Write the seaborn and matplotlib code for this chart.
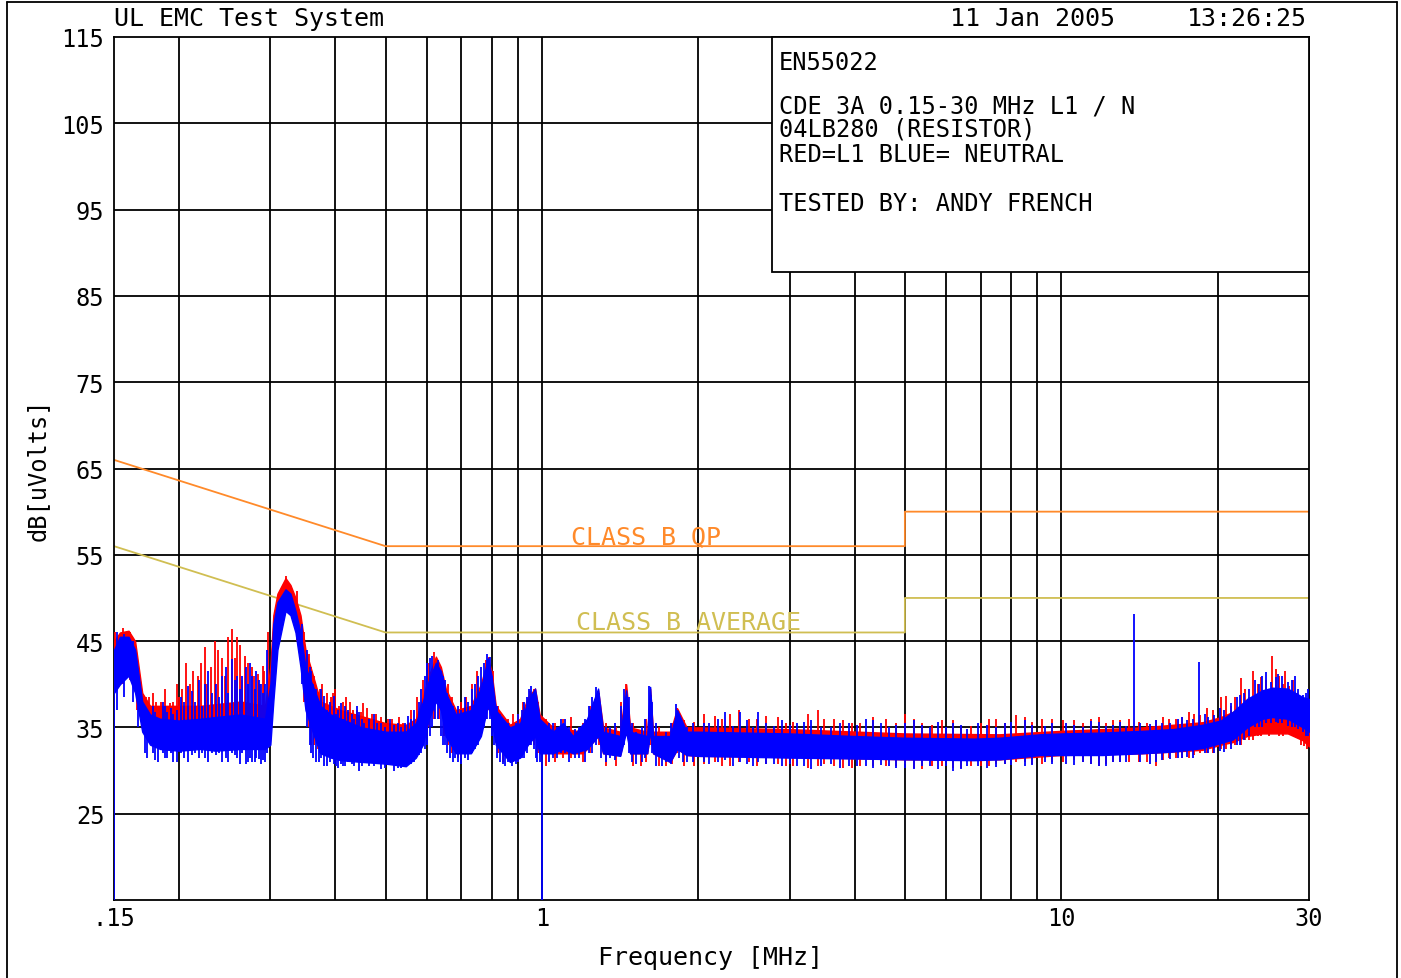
import matplotlib
matplotlib.use("Agg")
import matplotlib.pyplot as plt
import seaborn as sns
from matplotlib.patches import Rectangle
from matplotlib.lines import Line2D

# ---------------- data ----------------
# limit lines (MHz, dBuV)
qp_f = [0.15, 0.5, 5, 5, 30]
qp_db = [66, 56, 56, 60, 60]
av_f = [0.15, 0.5, 5, 5, 30]
av_db = [56, 46, 46, 50, 50]

# blue (neutral) envelope
blue_f = [0.150, 0.154, 0.160, 0.1647, 0.170, 0.176, 0.184, 0.200, 0.220, 0.235, 0.263, 0.293, 0.300,
          0.304, 0.3096, 0.3209, 0.328, 0.3354, 0.3429, 0.3506, 0.3665, 0.3747, 0.392, 0.41, 0.45, 0.50,
          0.547, 0.572, 0.59, 0.606, 0.625, 0.639, 0.653, 0.683, 0.73, 0.763, 0.787, 0.80, 0.815, 0.868,
          0.908, 0.94, 0.97, 0.99, 1.05, 1.098, 1.148, 1.222, 1.283, 1.312, 1.415, 1.453, 1.479, 1.595,
          1.616, 1.637, 1.766, 1.822, 1.9, 2.0, 3.0, 4.0, 5.0, 6.8, 7.6, 9.1, 10, 12, 14.3, 16.4, 18.7,
          20.3, 21.4, 22.8, 24.4, 25.5, 27.3, 29.2, 30]
blue_lo = [39, 40, 41, 39, 34.5, 33, 32.5, 32.3, 32.5, 32.3, 32.5, 32.5, 33, 38, 44, 48.5, 48, 46, 42, 37,
           33.5, 32, 31.5, 31.2, 31, 30.8, 30.5, 31.5, 33, 36, 38, 37, 34, 32, 32, 34, 37.5, 36, 33, 31,
           31.5, 33, 34, 32, 32, 32.5, 32, 32.5, 34, 32, 31.7, 34.5, 32, 32, 34.5, 32, 31, 32.5, 31.8, 31.7,
           31.5, 31.4, 31.3, 31.2, 31.3, 31.8, 31.8, 31.8, 32, 32.2, 32.6, 33.2, 33.6, 35, 36, 36.2, 36, 35, 34.5]
blue_hi = [44, 45.5, 45.5, 44, 38, 36.5, 36, 35.8, 36, 36.2, 36.5, 36, 40, 47, 49.5, 51, 50.5, 48.5, 46, 42,
           39, 37.5, 36.5, 36, 35, 34.5, 34.5, 35.5, 38, 40.5, 42.5, 41.5, 39, 36.5, 37, 39.5, 43, 41, 37, 35,
           35.5, 38, 39.5, 36, 34.5, 35.5, 34, 36, 39.5, 34.5, 34, 39.3, 34.5, 34, 39.7, 34, 34, 37, 34.5, 34.5,
           34.3, 34, 33.8, 33.7, 33.8, 34.2, 34.3, 34.4, 34.6, 34.8, 35.3, 35.8, 36.8, 38.3, 39.3, 39.6, 39.5,
           38.5, 38.3]

# red (L1) envelope
red_f = [0.150, 0.154, 0.160, 0.1647, 0.170, 0.176, 0.20, 0.22, 0.263, 0.293, 0.300, 0.304, 0.3096, 0.3209,
         0.328, 0.3354, 0.3429, 0.3506, 0.3665, 0.3747, 0.41, 0.50, 0.547, 0.572, 0.59, 0.606, 0.625, 0.639,
         0.653, 0.683, 0.73, 0.763, 0.787, 0.80, 0.815, 0.868, 0.908, 0.94, 0.97, 0.99, 1.05, 1.2, 1.283,
         1.312, 1.415, 1.453, 1.479, 1.595, 1.616, 1.637, 1.766, 1.822, 1.9, 2.0, 3.0, 5.0, 7.6, 10, 14.3,
         18.7, 20.3, 21.4, 22.8, 24.4, 27.3, 29.2, 30]
red_lo = [40.5, 41, 41.5, 40, 36, 34.8, 34.5, 34, 34, 34, 35, 40, 46, 50, 49, 47.5, 44, 39, 34.5, 33,
          32, 31.5, 31.3, 32, 33.5, 36.5, 38.5, 37.5, 34.5, 32.3, 32.3, 34.5, 38, 36.5, 33.3, 31.3, 31.8,
          33.3, 34.3, 32.2, 32, 32, 34, 32, 31.8, 35, 32, 32, 34.5, 32, 31, 32.5, 31.8, 31.7, 31.6, 31.3,
          31.3, 31.8, 32, 32.4, 33, 33.3, 34, 34.3, 34.3, 33.5, 32.8]
red_hi = [45, 46, 46.2, 45, 39, 37.5, 37.5, 37.5, 38, 37.5, 42, 48, 50.5, 52.3, 51.5, 50, 48, 44, 40, 38,
          37, 35.5, 35.3, 36, 38.5, 41, 43.2, 42, 39.5, 37, 37.5, 40, 43, 41.5, 37.5, 35.3, 36, 38.5, 39.5,
          36.5, 35, 34.5, 39.3, 35, 34.5, 40, 35, 34.5, 39.5, 34.5, 34.5, 37.2, 35, 35, 34.8, 34.3, 34.2,
          34.6, 35, 35.6, 36.2, 36.8, 37.3, 37.5, 37.5, 37, 36]

# individual spikes (MHz, low dB, high dB)
blue_spikes = [
    (0.1503, 15, 44), (0.152, 37, 46), (0.157, 38.5, 45.8), (0.163, 38, 45), (0.167, 35, 41),
    (0.172, 32, 37), (0.180, 31.2, 36.8), (0.188, 31.5, 37.5), (0.195, 31, 36.5), (0.205, 31.5, 38),
    (0.212, 31.8, 39.2), (0.225, 31.5, 40), (0.232, 32, 39), (0.242, 31, 41), (0.253, 32, 42.9),
    (0.259, 31.5, 41), (0.269, 30.8, 42), (0.277, 31, 41), (0.285, 31.3, 40.5), (0.293, 31, 40),
    (0.296, 32, 44), (0.345, 40, 47), (0.353, 35, 44), (0.360, 32, 41.5), (0.368, 31, 39.5),
    (0.380, 30.5, 38.6), (0.397, 30.8, 38.6), (0.405, 30.3, 37), (0.418, 30.5, 37.5), (0.43, 30.8, 36.5),
    (0.445, 30, 36.8), (0.465, 30.5, 36), (0.49, 30.2, 35.5), (0.52, 30, 35.3), (0.535, 30.3, 35),
    (0.56, 30.8, 36), (0.58, 31.8, 38), (0.595, 32.5, 41), (0.615, 35, 43.3), (0.632, 36, 42.8),
    (0.65, 33, 40.5), (0.665, 31.5, 38), (0.69, 31, 37.5), (0.71, 31.5, 38.5), (0.745, 32.5, 40),
    (0.775, 35, 42.5), (0.795, 36, 43.2), (0.81, 33, 38), (0.83, 31, 36.5), (0.85, 30.5, 35),
    (0.89, 30.8, 35.5), (0.925, 31.5, 38), (0.955, 33, 39.8), (0.98, 31, 38), (1.0, 15, 34),
    (1.03, 31, 35.5), (1.07, 31.5, 35), (1.11, 32, 36), (1.18, 31.5, 35), (1.25, 32, 38.5),
    (1.27, 33, 39.7), (1.35, 31.5, 35), (1.44, 33, 39.4), (1.52, 30.8, 34.5), (1.61, 33, 39.8),
    (1.70, 30.5, 34), (1.81, 32, 37.7), (1.9, 31, 35), (2.05, 31, 35.5), (2.25, 31.2, 36.8),
    (2.41, 31, 36.8), (2.61, 31, 36.8), (2.8, 30.8, 35.2), (3.1, 30.5, 35.5), (3.3, 30.2, 35.8),
    (3.6, 30.8, 35), (3.9, 30.5, 35.5), (4.2, 30.5, 36), (4.5, 30.6, 35.5), (4.8, 30.3, 35.3),
    (5.2, 30.2, 35.8), (5.6, 30.5, 35), (6.2, 30, 35.5), (6.6, 30.5, 34.8), (7.2, 30.3, 35.3),
    (7.8, 30.8, 35.5), (8.5, 30.5, 35.8), (9.3, 31, 35.2), (10.2, 30.8, 35.5), (11.0, 31, 35),
    (11.8, 30.5, 35.6), (12.6, 31, 35.3), (13.3, 31, 35.2), (13.78, 33, 48.1), (14.8, 30.8, 35.4),
    (15.6, 31.2, 35.5), (16.8, 31.5, 36), (17.5, 31.6, 35.8), (18.46, 34, 42.6), (19.2, 32, 36.2),
    (20.6, 32.2, 37), (21.8, 33, 38.5), (22.5, 33.5, 39), (23.6, 35, 40.5), (24.8, 35.5, 41.4),
    (25.9, 35.6, 40.8), (26.6, 35.5, 41), (27.8, 35, 40.5), (28.6, 34.8, 39.5), (29.6, 34, 39),
    (0.174, 31.5, 36.5), (0.178, 32, 37.5), (0.182, 31, 36), (0.186, 32, 38), (0.190, 31.5, 36.8),
    (0.193, 32, 37.2), (0.198, 31, 37), (0.202, 32, 38.5), (0.208, 31, 39.8), (0.215, 32, 38),
    (0.219, 31.5, 40.5), (0.222, 32, 37.5), (0.228, 31, 41.5), (0.236, 31.8, 40), (0.239, 32, 38.5),
    (0.246, 31.5, 42), (0.249, 31, 39), (0.256, 31.8, 40.5), (0.262, 30.8, 39.5), (0.265, 32, 41),
    (0.272, 31, 40), (0.274, 31.5, 42.5), (0.280, 31, 39.5), (0.282, 31.5, 41.5), (0.288, 30.8, 40),
    (0.291, 31.2, 39),
    (0.357, 33, 42), (0.363, 31.5, 40), (0.372, 31, 38), (0.376, 31.5, 39.5), (0.385, 30.5, 37),
    (0.39, 31, 38), (0.401, 30.5, 36.5), (0.41, 30.8, 37.8), (0.414, 30.5, 36), (0.424, 31, 37),
    (0.435, 30.5, 36), (0.44, 31, 37.5), (0.45, 30.5, 36), (0.455, 31, 35.5), (0.475, 30.5, 36.5),
    (0.482, 30.8, 35.5), (0.498, 30.3, 35), (0.51, 30.8, 36), (0.528, 30.3, 35.5), (0.545, 30.5, 35.5),
    (0.552, 30.8, 36.3), (0.568, 31, 37), (0.586, 32, 39.5), (0.60, 33, 42.5), (0.608, 34, 43),
    (0.622, 36, 42), (0.64, 34, 41.5), (0.645, 33, 41), (0.658, 32, 39), (0.675, 31, 37.5),
    (0.68, 31.5, 36.5), (0.70, 30.8, 37), (0.72, 31.2, 38), (0.735, 32, 39.5), (0.755, 33, 41),
    (0.765, 34, 42), (0.785, 36, 43.5), (0.80, 34, 41), (0.82, 31.5, 37.5), (0.84, 30.8, 36),
    (0.86, 31, 35.5), (0.875, 30.5, 35), (0.90, 31, 36.5), (0.915, 31.5, 37), (0.935, 32, 38.5),
    (0.945, 33, 39.5), (0.965, 32.5, 39), (0.975, 31.5, 38.5), (0.99, 31, 36),
    (1.05, 31.5, 35.5), (1.09, 32, 36), (1.13, 31, 35), (1.16, 31.5, 34.8), (1.21, 31, 36),
    (1.23, 32, 37.5), (1.3, 31.5, 36), (1.33, 31, 35), (1.38, 31.2, 35.5), (1.42, 32, 37.5),
    (1.47, 32, 38.5), (1.49, 31, 35.5), (1.56, 31, 35), (1.58, 31.5, 36), (1.63, 32, 38),
    (1.66, 30.5, 35.5), (1.73, 31, 34.5), (1.77, 30.8, 35.5), (1.84, 31.5, 36.5), (1.87, 31, 35),
    (1.95, 31, 35.5), (2.1, 30.8, 35.5), (2.18, 31, 36), (2.33, 30.5, 35.2), (2.48, 30.8, 35.8),
    (2.55, 30.5, 35), (2.7, 30.8, 35.5), (2.9, 30.5, 35.8), (3.0, 30.8, 35.3), (3.2, 30.5, 35.6),
    (3.45, 30.5, 35), (3.75, 30.3, 35.5), (4.05, 30.5, 35.3), (4.35, 30.3, 35.8), (4.65, 30.5, 35),
    (5.0, 30.3, 35.5), (5.4, 30.5, 35.3), (5.8, 30.2, 35.6), (6.0, 30.5, 35), (6.4, 30.2, 35.3),
    (6.9, 30.5, 35.5), (7.5, 30.4, 35), (8.0, 30.6, 35.6), (8.8, 30.6, 35.3), (9.6, 30.8, 35.5),
    (10.6, 30.7, 35.3), (11.4, 30.8, 35.7), (12.2, 30.5, 35.2), (13.0, 31, 35.6), (14.2, 31, 35.5),
    (15.2, 31, 35.8), (16.2, 31.3, 35.5), (17.1, 31.5, 36.2), (17.9, 31.5, 36), (18.9, 32, 36.5),
    (19.7, 32, 36.4), (20.2, 32.3, 37.3), (21.2, 32.5, 37.8), (22.1, 33, 38.8), (23.0, 34, 39.5),
    (24.0, 35, 40), (24.4, 35, 41), (25.3, 35.5, 40.3), (26.2, 35.5, 41.2), (27.3, 35.2, 40.3),
    (28.2, 35, 41), (29.2, 34.5, 38.8), (29.9, 34, 39.5),
]
red_spikes = [
    (0.151, 39.5, 46), (0.156, 40, 46.5), (0.161, 40.5, 46), (0.166, 37, 43), (0.175, 34, 38.5),
    (0.185, 34, 38), (0.192, 34, 37.8), (0.2, 33.5, 38.5), (0.21, 34, 40), (0.218, 33.5, 41),
    (0.2249, 34, 44.3), (0.235, 34, 45), (0.2418, 33.5, 43), (0.2528, 34, 46.4), (0.259, 33.8, 45.5),
    (0.268, 33.5, 43.3), (0.276, 34, 42), (0.284, 33.5, 41.2), (0.29, 34, 42.1), (0.297, 35, 46),
    (0.3215, 50, 52.6), (0.337, 45, 50.8), (0.348, 38, 46), (0.356, 35, 43.5), (0.364, 33, 41),
    (0.374, 32, 39.5), (0.385, 32, 39), (0.40, 31.5, 39.4), (0.414, 31.5, 38), (0.428, 32, 38),
    (0.44, 31.5, 37), (0.46, 31.5, 37.2), (0.48, 31, 36.5), (0.505, 31, 36), (0.53, 31.5, 36.2),
    (0.575, 32.5, 38.5), (0.62, 36, 43.7), (0.66, 33, 40), (0.70, 31.5, 38), (0.735, 33, 40),
    (0.78, 36, 42.8), (0.84, 31, 36), (0.90, 31, 36.5), (0.95, 33, 39.2), (1.02, 30.5, 36),
    (1.1, 31.5, 36), (1.2, 31, 35.5), (1.29, 33, 39), (1.39, 30.5, 35), (1.45, 34, 40),
    (1.55, 30.5, 34.5), (1.62, 33, 38.8), (1.73, 30.5, 34.5), (1.82, 32, 37.2), (1.96, 30.5, 35.6),
    (2.15, 31, 36.3), (2.3, 30.5, 36.5), (2.5, 31, 36), (2.7, 30.8, 36.3), (2.95, 30.5, 35.5),
    (3.4, 30.5, 37), (3.5, 30.8, 36), (3.8, 30.3, 35.8), (4.1, 30.5, 35.5), (4.6, 30.5, 36),
    (5.0, 30.8, 36.5), (5.4, 30.2, 35.5), (5.9, 30.5, 35.8), (6.4, 30.3, 35), (7.0, 30.5, 35.5),
    (7.5, 30.8, 36), (8.2, 31, 36.4), (8.8, 30.8, 35.6), (9.6, 31, 36), (10.6, 31.2, 35.8),
    (11.4, 30.8, 36), (12.2, 30.8, 35.5), (13.0, 31, 35.8), (14.1, 31, 35.6), (15.2, 30.5, 35.8),
    (16.1, 31.5, 36), (17.1, 31.5, 36.2), (18.0, 31.8, 36.5), (19.6, 32, 37), (20.8, 32.5, 38.6),
    (21.6, 33, 38.5), (22.2, 33, 40.7), (23.4, 33.5, 41.5), (24.3, 34, 40.8), (25.5, 34.5, 43.3),
    (26.3, 34, 41), (27.0, 34.5, 41.5), (28.0, 34, 40.5), (29.0, 33, 38.5), (29.8, 32.5, 37.5),
    (0.173, 34.5, 38.5), (0.178, 34, 39), (0.181, 34.5, 38), (0.188, 34, 39.5), (0.195, 33.5, 38),
    (0.198, 34, 40), (0.203, 33.5, 39.5), (0.206, 34, 42.5), (0.213, 33.5, 41.5), (0.221, 34, 42.5),
    (0.227, 33.5, 40), (0.231, 34, 42), (0.238, 33.5, 44), (0.245, 34, 41), (0.249, 33.5, 45.5),
    (0.256, 34, 43), (0.262, 33.5, 44.5), (0.265, 34, 40.5), (0.272, 33.5, 42.5), (0.279, 34, 41),
    (0.287, 33.5, 40), (0.292, 34, 41.5),
    (0.36, 33, 42), (0.37, 32.5, 39), (0.378, 32, 40), (0.392, 31.5, 38.5), (0.396, 32, 39),
    (0.407, 31.5, 37.5), (0.42, 31.5, 38.5), (0.433, 31.8, 37), (0.448, 31.5, 36.8), (0.453, 31.8, 37.8),
    (0.47, 31.3, 36.5), (0.49, 31.2, 36.2), (0.515, 31, 36), (0.54, 31.2, 35.5), (0.56, 31.5, 37),
    (0.59, 33, 40.5), (0.605, 35, 42.5), (0.635, 36, 42.5), (0.648, 34, 40.5), (0.672, 32, 38.5),
    (0.69, 31.5, 37), (0.715, 32, 38.5), (0.75, 34, 41.5), (0.79, 37, 43.2), (0.805, 35, 41.5),
    (0.825, 32, 37.5), (0.86, 31.3, 36), (0.88, 31, 36.5), (0.92, 32, 38), (0.965, 33, 39.5),
    (0.985, 32, 38),
    (1.06, 31, 35.5), (1.14, 31.5, 36.2), (1.24, 32, 37.5), (1.33, 30.5, 35.5), (1.42, 32, 38),
    (1.5, 30.5, 35.5), (1.59, 31, 36), (1.68, 30.5, 35), (1.78, 30.8, 35.5), (1.88, 30.5, 35.8),
    (2.05, 30.8, 36.5), (2.22, 30.5, 36), (2.4, 31, 37), (2.6, 30.5, 36), (2.85, 30.8, 36.2),
    (3.05, 30.5, 35.6), (3.25, 30.3, 36.5), (3.65, 30.5, 36), (3.95, 30.3, 35.5), (4.35, 30.5, 36.2),
    (4.8, 30.5, 35.5), (5.2, 30.3, 36), (5.65, 30.5, 35.3), (6.2, 30.3, 35.8), (6.7, 30.5, 35.2),
    (7.25, 30.5, 36), (7.8, 30.8, 35.5), (8.5, 31, 36.2), (9.2, 30.8, 36), (10.1, 31, 35.8),
    (11.0, 31, 35.5), (11.8, 30.5, 36.2), (12.6, 31, 35.8), (13.5, 31, 36), (14.6, 31, 35.5),
    (15.7, 31.2, 36.2), (16.6, 31.5, 36), (17.6, 31.5, 36.8), (18.5, 32, 36.4), (19.1, 32, 37.2),
    (20.3, 32.5, 38.5), (21.2, 33, 37.5), (22.6, 33.5, 39.5), (23.0, 33.5, 38.5), (23.9, 34, 40),
    (24.8, 34.5, 40.5), (25.1, 34, 39.5), (25.9, 34.5, 41.8), (26.7, 34, 40), (27.5, 34.5, 39.8),
    (28.5, 34, 39), (29.4, 32.8, 38),
]

grid_f = [0.2, 0.3, 0.4, 0.5, 0.6, 0.7, 0.8, 0.9, 1, 2, 3, 4, 5, 6, 7, 8, 9, 10, 20]
grid_db = [25, 35, 45, 55, 65, 75, 85, 95, 105]
xtick_f = [0.15, 1, 10, 30]
xtick_lab = [".15", "1", "10", "30"]
ytick_db = [25, 35, 45, 55, 65, 75, 85, 95, 105, 115]

box_lines = [("EN55022", 63), ("CDE 3A 0.15-30 MHz L1 / N", 106), ("04LB280 (RESISTOR)", 130),
             ("RED=L1 BLUE= NEUTRAL", 155), ("TESTED BY: ANDY FRENCH", 204)]

# ---------------- drawing ----------------
sns.set_style("white")
plt.rcParams['font.family'] = ['DejaVu Sans Mono', 'DejaVu Sans']
for k in ['text.color', 'axes.labelcolor', 'xtick.color', 'ytick.color']:
    plt.rcParams[k] = 'black'

W, H = 1401, 979
fig = plt.figure(figsize=(W / 100, H / 100), dpi=100)
ax = fig.add_axes([114 / W, 1 - 901 / H, 1195 / W, 863 / H])
ax.set_xscale('log')

for f in grid_f:
    ax.axvline(f, color='black', lw=1.3, zorder=1)
for d in grid_db:
    ax.axhline(d, color='black', lw=1.3, zorder=1)

QP_C = '#FF8A2A'
AV_C = '#D0BE52'
sns.lineplot(x=qp_f, y=qp_db, ax=ax, color=QP_C, lw=1.3, estimator=None, sort=False, zorder=2)
sns.lineplot(x=av_f, y=av_db, ax=ax, color=AV_C, lw=1.3, estimator=None, sort=False, zorder=2)
ax.text(1.14, 56.35, "CLASS B QP", color=QP_C, fontsize=18, va='baseline', ha='left', zorder=2)
ax.text(1.165, 46.4, "CLASS B AVERAGE", color=AV_C, fontsize=18, va='baseline', ha='left', zorder=2)

ax.fill_between(red_f, red_lo, red_hi, color='#FF0000', lw=1.0, zorder=3)
rf, rl, rh = zip(*red_spikes)
ax.vlines(rf, rl, rh, color='#FF0000', lw=1.3, zorder=3)

ax.fill_between(blue_f, blue_lo, blue_hi, color='#0000FF', lw=1.0, zorder=3.2)
bf, bl, bh = zip(*blue_spikes)
ax.vlines(bf, bl, bh, color='#0000FF', lw=1.3, zorder=3.2)

ax.set_xlim(0.15, 30)
ax.set_ylim(15, 115)
ax.set_xticks(xtick_f)
ax.set_xticklabels(xtick_lab)
ax.xaxis.set_minor_locator(matplotlib.ticker.NullLocator())
ax.set_yticks(ytick_db)
ax.set_yticklabels([str(v) for v in ytick_db])
ax.tick_params(axis='both', length=0, labelsize=17, colors='black')
ax.tick_params(axis='x', pad=4)
ax.tick_params(axis='y', pad=7)
for s in ax.spines.values():
    s.set_color('black')
    s.set_linewidth(1.3)
    s.set_visible(True)

# info box
ax.add_patch(Rectangle((658 / 1195, 628 / 863), 1 - 658 / 1195, 1 - 628 / 863, transform=ax.transAxes,
                       facecolor='white', edgecolor='black', lw=1.3, zorder=4, clip_on=False))
for txt, ypx in box_lines:
    fig.text(779 / W, 1 - ypx / H, txt, fontsize=17, va='center', ha='left', zorder=5, color='black')

# header / labels
fig.text(114 / W, 1 - 19 / H, "UL EMC Test System", fontsize=18, va='center', ha='left', color='black')
fig.text(950 / W, 1 - 19 / H, "11 Jan 2005", fontsize=18, va='center', ha='left', color='black')
fig.text(1307 / W, 1 - 19 / H, "13:26:25", fontsize=18, va='center', ha='right', color='black')
fig.text(711 / W, 1 - 958 / H, "Frequency [MHz]", fontsize=18, va='center', ha='center', color='black')
fig.text(38 / W, 1 - 470 / H, "dB[uVolts]", fontsize=17, va='center', ha='center', rotation=90,
         color='black')

# outer frame
for xs, ys in [([7, 7], [3, 979]), ([7, 1397], [3, 3]), ([1397, 1397], [3, 979])]:
    fig.add_artist(Line2D([x / W for x in xs], [1 - y / H for y in ys], color='black', lw=1.3))

fig.savefig("out.png", dpi=100, facecolor='white')
